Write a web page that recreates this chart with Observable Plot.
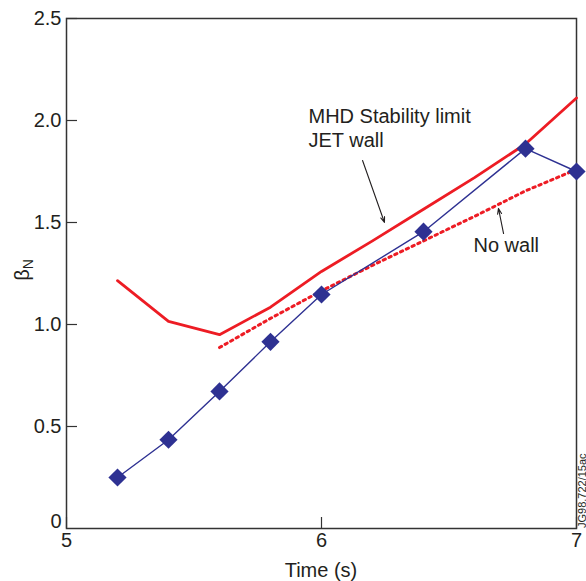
<!DOCTYPE html>
<html>
<head>
<meta charset="utf-8">
<script src="https://cdn.jsdelivr.net/npm/d3@7"></script>
<script src="https://cdn.jsdelivr.net/npm/@observablehq/plot@0.6"></script>
<style>
  html, body { margin: 0; padding: 0; background: #fff; }
</style>
</head>
<body>
<div id="chart"></div>
<script>
// Measured shots (blue diamonds)
const timeS = [5.2, 5.4, 5.6, 5.8, 6.0, 6.4, 6.8, 7.0];
const betaN = [0.25, 0.435, 0.672, 0.915, 1.147, 1.455, 1.862, 1.75];

// MHD stability limit, JET wall (solid red)
const jetWallT = [5.2, 5.4, 5.6, 5.8, 6.0, 6.2, 6.4, 6.6, 6.8, 7.0];
const jetWall  = [1.215, 1.015, 0.95, 1.085, 1.26, 1.41, 1.565, 1.72, 1.885, 2.11];

// No wall limit (dotted red)
const noWallT = [5.6, 5.8, 6.0, 6.2, 6.4, 6.6, 6.8, 7.0];
const noWall  = [0.887, 1.03, 1.165, 1.29, 1.41, 1.53, 1.655, 1.76];

// Axis ticks
const xTicks = [5, 6, 7];
const xTickLabels = ["5", "6", "7"];
const yTicks = [0.5, 1.0, 1.5, 2.0, 2.5];
const yTickLabels = ["0.5", "1.0", "1.5", "2.0", "2.5"];
const yZeroTick = [0];
const yZeroLabel = ["0"];

// Annotations
const noteText = ["MHD Stability limit", "JET wall", "No wall"];
const noteX = [5.949, 5.949, 6.596];
const noteY = [2.02, 1.902, 1.385];
const arrowX1 = [6.161, 6.714];
const arrowY1 = [1.804, 1.446];
const arrowX2 = [6.247, 6.694];
const arrowY2 = [1.50, 1.569];

const red = "#ed1c24";
const blue = "#2e3192";
const ink = "#231f20";

const measured = timeS.map((t, i) => ({t, b: betaN[i]}));
const wallData = jetWallT.map((t, i) => ({t, b: jetWall[i]}));
const noWallData = noWallT.map((t, i) => ({t, b: noWall[i]}));
const notes = noteText.map((s, i) => ({s, x: noteX[i], y: noteY[i]}));
const arrows = arrowX1.map((x1, i) => ({x1, y1: arrowY1[i], x2: arrowX2[i], y2: arrowY2[i]}));

const font = "'Liberation Sans', Arial, Helvetica, sans-serif";
const W = 586, H = 581, mL = 66, mR = 10, mT = 18, mB = 53;
const frameW = W - mL - mR, frameH = H - mT - mB;

const chart = Plot.plot({
  width: W,
  height: H,
  marginLeft: mL,
  marginRight: mR,
  marginTop: mT,
  marginBottom: mB,
  style: {fontFamily: font, fontSize: "20px", color: ink, background: "#fff"},
  x: {domain: [5, 7]},
  y: {domain: [0, 2.5]},
  marks: [
    // tick labels from the library axes (tick marks drawn inward below)
    Plot.axisX({ticks: xTicks, tickFormat: d => xTickLabels[xTicks.indexOf(d)], tickSize: 0, tickPadding: 4, label: null, fill: ink}),
    Plot.axisY({ticks: yTicks, tickFormat: d => yTickLabels[yTicks.indexOf(d)], tickSize: 0, tickPadding: 5, label: null, fill: ink}),
    Plot.axisY({ticks: yZeroTick, tickFormat: d => yZeroLabel[yZeroTick.indexOf(d)], tickSize: 0, tickPadding: 5, label: null, fill: ink, dy: -7}),
    // inward tick marks
    Plot.tickY(yTicks, {y: d => d, stroke: "#333", strokeWidth: 1.2, insetRight: frameW - 11}),
    Plot.tickX(xTicks, {x: d => d, stroke: "#333", strokeWidth: 1.2, insetTop: frameH - 11}),
    Plot.frame({stroke: "#333", strokeWidth: 1.5}),
    Plot.line(noWallData, {x: "t", y: "b", stroke: red, strokeWidth: 3, strokeDasharray: "2.4 4"}),
    Plot.line(wallData, {x: "t", y: "b", stroke: red, strokeWidth: 2.8}),
    Plot.line(measured, {x: "t", y: "b", stroke: blue, strokeWidth: 1.4}),
    Plot.dot(measured, {x: "t", y: "b", symbol: "diamond2", r: 8.2, fill: blue, stroke: "none"}),
    Plot.arrow(arrows, {x1: "x1", y1: "y1", x2: "x2", y2: "y2", stroke: ink, strokeWidth: 1.1, headLength: 8, headAngle: 40}),
    Plot.text(notes, {x: "x", y: "y", text: "s", textAnchor: "start", lineAnchor: "middle", fill: ink, fontSize: 20})
  ]
});

const svg = d3.select(chart);
// Y axis label: beta with subscript N
const yl = svg.append("text")
  .attr("transform", "translate(29,270) rotate(-90)")
  .attr("text-anchor", "middle")
  .attr("font-family", font)
  .attr("font-size", 20)
  .attr("fill", ink);
yl.append("tspan").text("β");
yl.append("tspan").attr("font-size", 14).attr("dy", 4).text("N");

// X axis label
svg.append("text")
  .attr("x", 321).attr("y", 577)
  .attr("text-anchor", "middle")
  .attr("font-family", font)
  .attr("font-size", 20)
  .attr("fill", ink)
  .text("Time (s)");

// Figure reference code, vertical at right edge
svg.append("text")
  .attr("transform", "translate(585.5,528) rotate(-90)")
  .attr("text-anchor", "start")
  .attr("font-family", font)
  .attr("font-size", 11)
  .attr("fill", ink)
  .text("JG98.722/15ac");

document.getElementById("chart").appendChild(chart);
</script>
</body>
</html>
